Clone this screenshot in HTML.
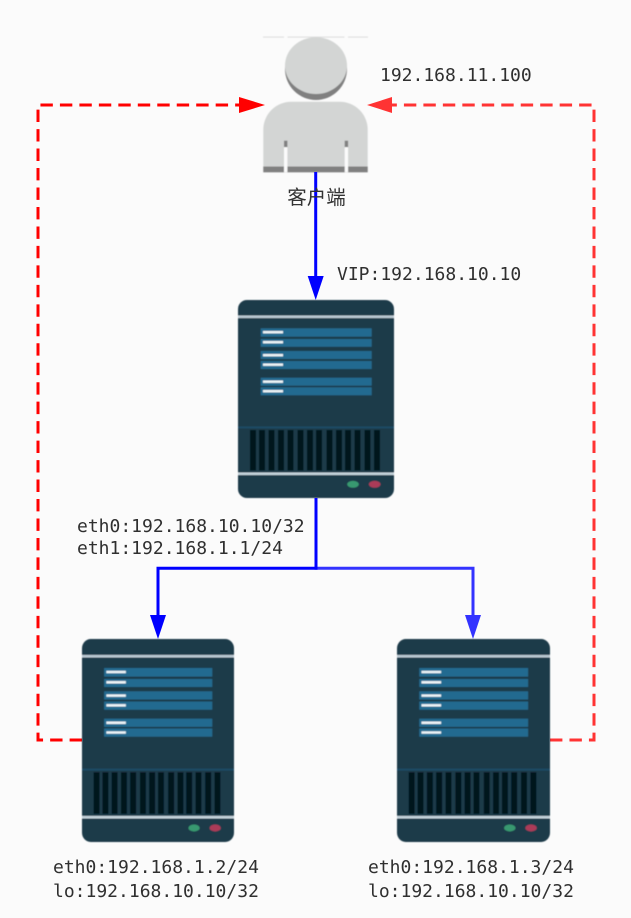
<!DOCTYPE html>
<html>
<head>
<meta charset="utf-8">
<style>
html,body{margin:0;padding:0;background:#fbfbfb;}
svg{display:block;}
.t{font-family:"DejaVu Sans Mono","Liberation Mono",monospace;font-size:18px;fill:#2f2f2f;}
.c{font-family:"Liberation Sans","Noto Sans CJK SC",sans-serif;font-size:19.5px;fill:#333;}
</style>
</head>
<body>
<svg width="631" height="918" viewBox="0 0 631 918" xmlns="http://www.w3.org/2000/svg">
<defs>
<filter id="soft" x="-5%" y="-5%" width="110%" height="110%"><feGaussianBlur stdDeviation="0.5"/></filter>
<symbol id="srv" viewBox="0 0 156 198" preserveAspectRatio="none">
<rect x="0" y="0" width="156" height="198" rx="9" fill="#1f3a4a"/>
<rect x="0" y="15.5" width="156" height="2.6" fill="#b9c8d1"/>
<g fill="#236a90">
<rect x="22.7" y="28.3" width="111" height="8.4"/>
<rect x="22.7" y="39" width="111" height="7.8"/>
<rect x="22.7" y="51" width="111" height="8"/>
<rect x="22.7" y="61" width="111" height="8"/>
<rect x="22.7" y="77.7" width="111" height="8"/>
<rect x="22.7" y="87.3" width="111" height="8"/>
</g>
<g fill="#eef4f7">
<rect x="25" y="31" width="20" height="2.4"/>
<rect x="25" y="41" width="20" height="2.4"/>
<rect x="25" y="54" width="20" height="2.4"/>
<rect x="25" y="63.5" width="20" height="2.4"/>
<rect x="25" y="80.5" width="20" height="2.4"/>
<rect x="25" y="90" width="20" height="2.4"/>
</g>
<rect x="0" y="126.5" width="156" height="1.8" fill="#1b4c66"/>
<g fill="#04121f">
<rect x="12" y="130" width="6" height="40.5"/>
<rect x="21" y="130" width="6" height="40.5"/>
<rect x="30.5" y="130" width="6" height="40.5"/>
<rect x="40" y="130" width="6" height="40.5"/>
<rect x="49.5" y="130" width="6" height="40.5"/>
<rect x="59.5" y="130" width="6" height="40.5"/>
<rect x="69" y="130" width="6" height="40.5"/>
<rect x="78" y="130" width="6" height="40.5"/>
<rect x="88.5" y="130" width="6" height="40.5"/>
<rect x="98" y="130" width="6" height="40.5"/>
<rect x="107" y="130" width="6" height="40.5"/>
<rect x="116.5" y="130" width="6" height="40.5"/>
<rect x="126.5" y="130" width="6" height="40.5"/>
<rect x="136" y="130" width="6" height="40.5"/>
</g>
<rect x="0" y="172.5" width="156" height="2.6" fill="#c3d2da"/>
<ellipse cx="115" cy="184.3" rx="5.8" ry="3.4" fill="#38996f"/>
<ellipse cx="136.7" cy="184.3" rx="5.8" ry="3.4" fill="#ab3a58"/>
</symbol>
</defs>

<rect width="631" height="918" fill="#fbfbfb"/>

<!-- red dashed return paths -->
<path d="M82 740H38V105H242" fill="none" stroke="#ff0000" stroke-width="3" stroke-dasharray="12.4 7.07"/>
<polygon points="265,105 239,97 239,113" fill="#ff0000"/>
<path d="M550 740H594V105H390" fill="none" stroke="#ff3333" stroke-width="3" stroke-dasharray="12.4 7.07"/>
<polygon points="367,105 392,97 392,113" fill="#ff3333"/>

<!-- person -->
<g filter="url(#soft)">
<g fill="#dcdcdc">
<rect x="263" y="36.6" width="21" height="1"/>
<rect x="287.5" y="36.6" width="57" height="1"/>
<rect x="348" y="36.6" width="20" height="1"/>
</g>
<circle cx="316" cy="69" r="31" fill="#808080"/>
<ellipse cx="316" cy="65.6" rx="31" ry="28.4" fill="#d3d5d4"/>
<path d="M263.3 172.3V130a28 28 0 0 1 28-28.3h48.4a28 28 0 0 1 28 28.3v42.3z" fill="#d3d5d4"/>
<rect x="263.3" y="166.5" width="104.4" height="5.8" fill="#808080"/>
<rect x="284" y="140.7" width="3.4" height="6.5" fill="#808080"/>
<rect x="344.7" y="140.7" width="3.4" height="6.5" fill="#808080"/>
<rect x="284" y="147.2" width="3.4" height="25.1" fill="#fbfbfb"/>
<rect x="344.7" y="147.2" width="3.4" height="25.1" fill="#fbfbfb"/>
</g>

<!-- servers -->
<g filter="url(#soft)">
<use href="#srv" x="238" y="300" width="156" height="198"/>
<use href="#srv" x="82" y="639" width="152" height="203"/>
<use href="#srv" x="397" y="639" width="153" height="203"/>
</g>

<!-- blue connectors -->
<path d="M316 498V568.3H473V618" fill="none" stroke="#3333ff" stroke-width="3"/>
<polygon points="473,639 465,615 481,615" fill="#3333ff"/>
<path d="M316 498V568.3H158V618" fill="none" stroke="#0000ff" stroke-width="3"/>
<polygon points="158,639 150,615 166,615" fill="#0000ff"/>
<path d="M315.7 172V280" fill="none" stroke="#0000ff" stroke-width="3"/>
<polygon points="315.7,300 307.7,276 323.7,276" fill="#0000ff"/>

<!-- labels -->
<text class="c" x="316.5" y="204" text-anchor="middle">客户端</text>
<text class="t" x="380" y="81">192.168.11.100</text>
<text class="t" x="337" y="280">VIP:192.168.10.10</text>
<text class="t" x="77" y="532">eth0:192.168.10.10/32</text>
<text class="t" x="77" y="554">eth1:192.168.1.1/24</text>
<text class="t" x="53" y="873">eth0:192.168.1.2/24</text>
<text class="t" x="53" y="897">lo:192.168.10.10/32</text>
<text class="t" x="368" y="873">eth0:192.168.1.3/24</text>
<text class="t" x="368" y="897">lo:192.168.10.10/32</text>
</svg>
</body>
</html>
